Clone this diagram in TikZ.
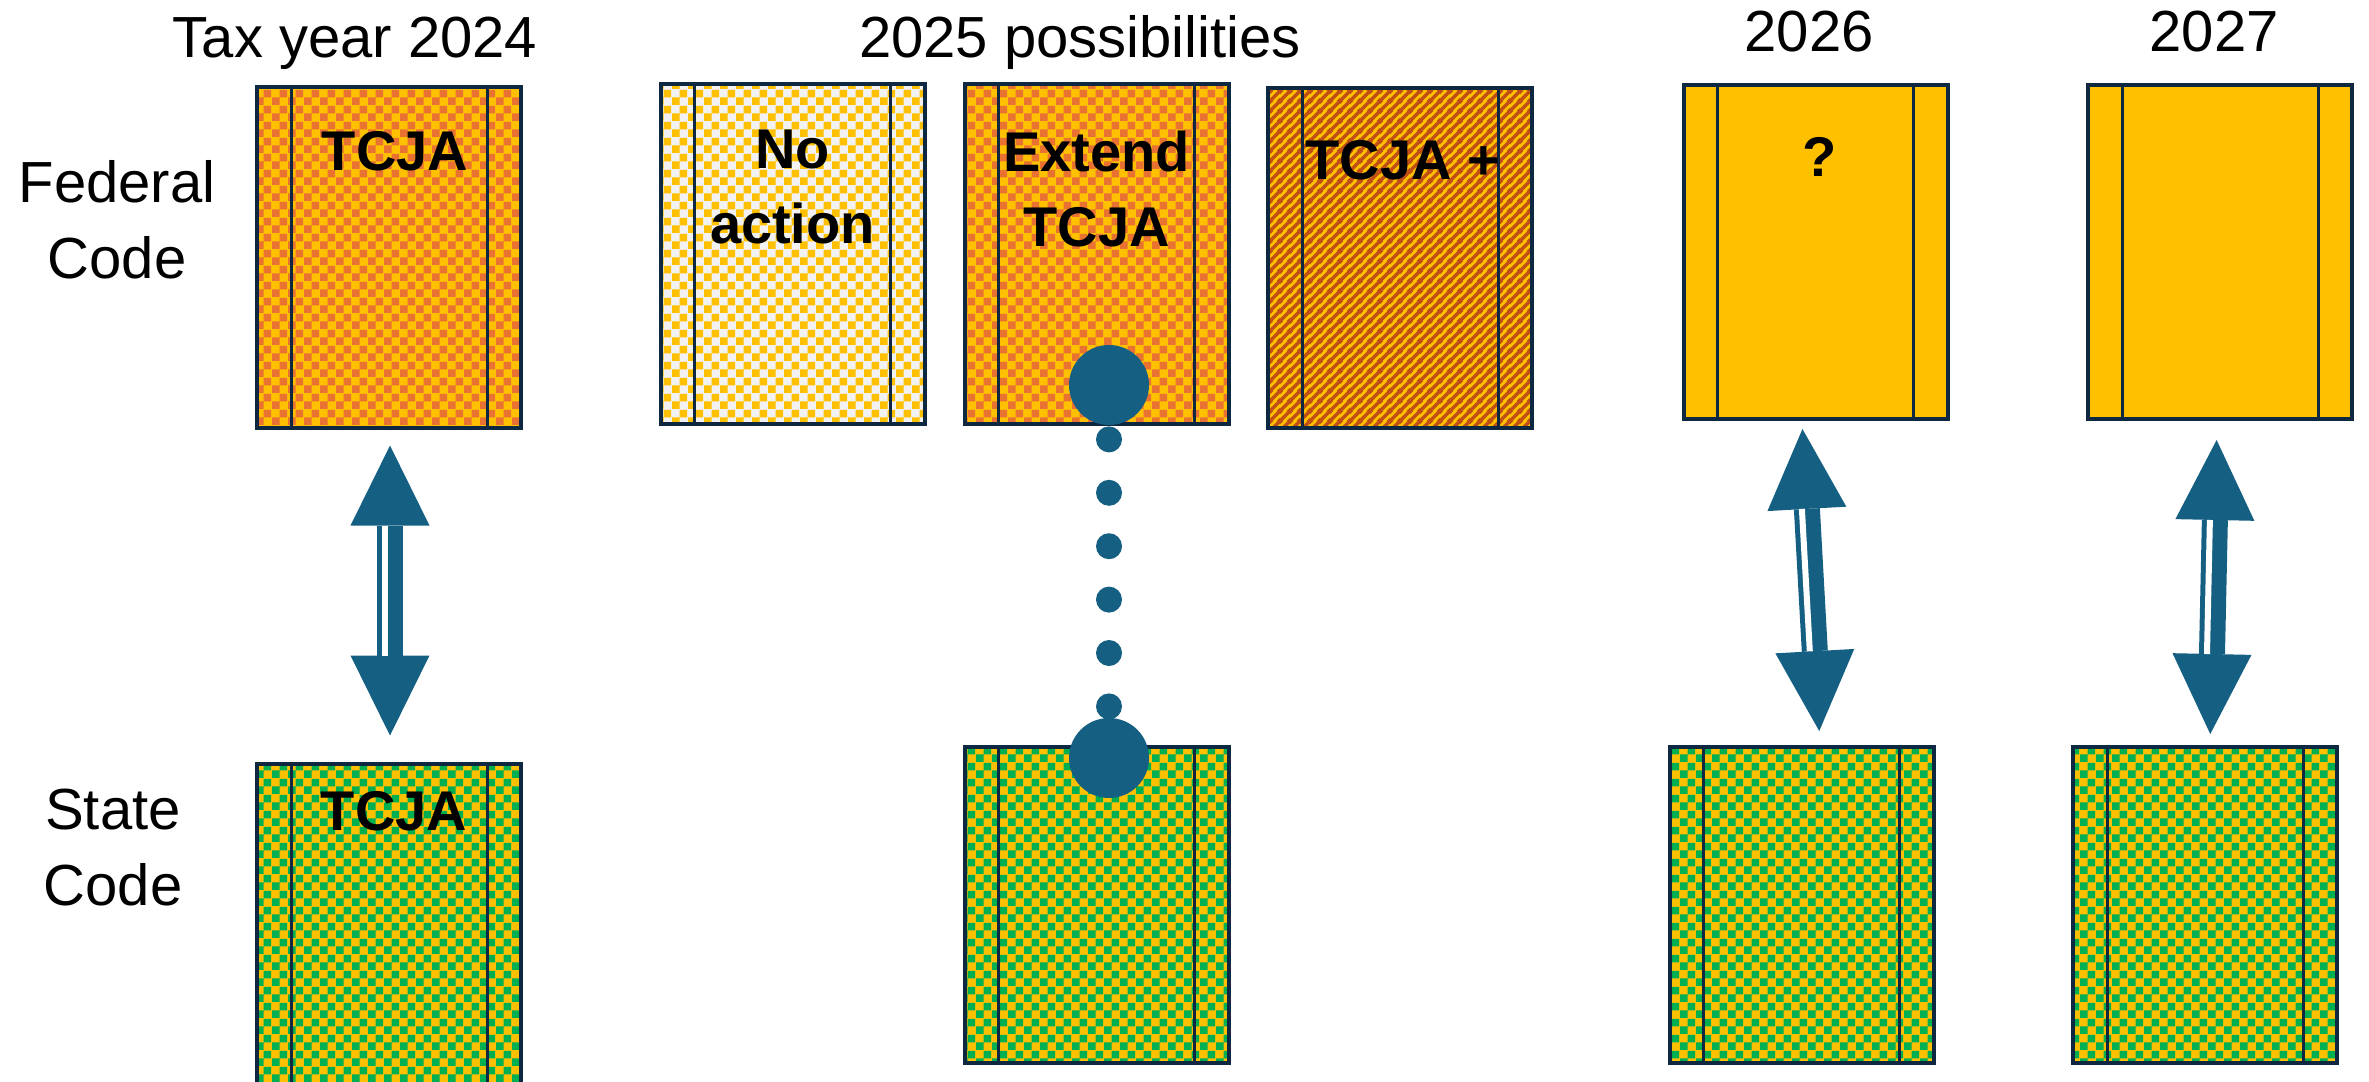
\documentclass[tikz,border=0pt]{standalone}
\usepackage{fontspec}
\setmainfont{Liberation Sans}
\usepackage{tikz}
\usepackage{xcolor}
\usetikzlibrary{positioning,calc,arrows.meta,patterns.meta}
\definecolor{taxOrange}{RGB}{233, 113, 50}
\definecolor{taxGold}{RGB}{255, 192, 0}
\definecolor{taxGreen}{RGB}{0, 176, 80}
\definecolor{taxPaper}{RGB}{242, 242, 242}
\definecolor{taxBrown}{RGB}{192, 79, 21}
\definecolor{taxNavy}{RGB}{14, 40, 65}
\definecolor{taxBlue}{RGB}{21, 96, 130}

% fill patterns
\pgfdeclarepattern{
  name=taxChecks, type=uncolored,
  bottom left={\pgfpointorigin}, top right={\pgfpoint{8pt}{8pt}},
  tile size={\pgfpoint{8pt}{8pt}},
  code={
    \pgfpathrectangle{\pgfpointorigin}{\pgfpoint{4pt}{4pt}}
    \pgfpathrectangle{\pgfpoint{4pt}{4pt}}{\pgfpoint{4pt}{4pt}}
    \pgfusepath{fill}
  }
}
\pgfdeclarepattern{
  name=taxStripes, type=uncolored,
  bottom left={\pgfpointorigin}, top right={\pgfpoint{5pt}{5pt}},
  tile size={\pgfpoint{5pt}{5pt}},
  code={
    \pgfsetlinewidth{1.9pt}
    \pgfpathmoveto{\pgfpoint{-1pt}{-1pt}}\pgfpathlineto{\pgfpoint{6pt}{6pt}}
    \pgfpathmoveto{\pgfpoint{-2pt}{3pt}}\pgfpathlineto{\pgfpoint{2pt}{7pt}}
    \pgfpathmoveto{\pgfpoint{3pt}{-2pt}}\pgfpathlineto{\pgfpoint{7pt}{2pt}}
    \pgfusepath{stroke}
  }
}

\begin{document}
\begin{tikzpicture}[x=0.5pt, y=-0.5pt,
    codeBox/.style={draw=taxNavy, line width=2pt, inner sep=0pt,
      minimum width=132pt, minimum height=170pt,
      path picture={
        \draw[taxNavy, line width=1.5pt] ([xshift=17pt]path picture bounding box.north west) -- ([xshift=17pt]path picture bounding box.south west);
        \draw[taxNavy, line width=1.5pt] ([xshift=-17pt]path picture bounding box.north east) -- ([xshift=-17pt]path picture bounding box.south east);
      }},
    tcjaBox/.style={codeBox, preaction={fill=taxGold}, pattern=taxChecks, pattern color=taxOrange},
    noneBox/.style={codeBox, preaction={fill=taxPaper}, pattern=taxChecks, pattern color=taxGold},
    plusBox/.style={codeBox, preaction={fill=taxGold}, pattern=taxStripes, pattern color=taxBrown},
    openBox/.style={codeBox, fill=taxGold, minimum height=167pt},
    stateBox/.style={codeBox, preaction={fill=taxGold}, pattern=taxChecks, pattern color=taxGreen},
    boxText/.style={inner sep=0pt, align=center, font=\fontsize{28pt}{37.5pt}\selectfont\bfseries},
    rowText/.style={inner sep=0pt, align=center, font=\fontsize{29pt}{38pt}\selectfont},
    yearText/.style={inner sep=0pt, anchor=base, font=\fontsize{29pt}{38pt}\selectfont},
    bigArrow/.style={draw=taxBlue, line width=13pt,
      {Triangle[width=39.5pt, length=40pt, line width=0pt]}-{Triangle[width=39.5pt, length=40pt, line width=0pt]}},
    arrowSlit/.style={draw=white, line width=3pt},
    bigDot/.style={circle, fill=taxBlue, minimum size=40pt, inner sep=0pt},
    dotLink/.style={draw=taxBlue, line width=13pt, line cap=round, dash pattern=on 0pt off 26.7pt, dash phase=19.7pt}]
    \useasboundingbox (0,0) rectangle (2369,1081);
    \clip (0,0) rectangle (2369,1081);

    % Year headings
    \node[yearText] (yr24) at (355,58) {Tax year 2024};
    \node[yearText] (yr25) at (1080,58) {2025 possibilities};
    \node[yearText] (yr26) at (1809,52) {2026};
    \node[yearText] (yr27) at (2214,52) {2027};

    % Row labels
    \node[rowText, anchor=north] (fedLbl) at (117,160) {Federal\\Code};
    \node[rowText, anchor=north] (stLbl) at (113,789) {State\\Code};

    % Federal code
    \node[tcjaBox] (fed24) at (389,257.5) {};
    \node[noneBox] (fedNone) at (792.5,254) {};
    \node[tcjaBox] (fedExt) at (1096.5,254) {};
    \node[plusBox] (fedMore) at (1400,258) {};
    \node[openBox] (fed26) at (1815.5,252) {};
    \node[openBox] (fed27) at (2220,252) {};

    % State code
    \node[stateBox] (st24) at (389,933.5) {};
    \node[stateBox, minimum height=158pt] (st25) at (1096.5,905) {};
    \node[stateBox, minimum height=158pt] (st26) at (1801.5,905) {};
    \node[stateBox, minimum height=158pt] (st27) at (2205,905) {};

    % Box texts
    \node[boxText, below=22.5pt of fed24.north, xshift=3pt] (fed24Txt) {TCJA};
    \node[boxText, below=24pt of fedNone.north] (noneTxt) {No\\action};
    \node[boxText, below=24.5pt of fedExt.north] (extTxt) {Extend\\TCJA};
    \node[boxText, below=27pt of fedMore.north, xshift=1.5pt] (moreTxt) {TCJA +};
    \node[boxText, below=27pt of fed26.north, xshift=2pt] (fed26Txt) {?};
    \node[boxText, below=14.75pt of st24.north, xshift=2.5pt] (st24Txt) {TCJA};

    % Connections
    \draw[bigArrow, shorten <=8pt, shorten >=13pt] ([xshift=0.5pt]fed24.south) -- ([xshift=0.5pt]st24.north);
    \draw[arrowSlit, shorten <=48pt, shorten >=53pt] ([xshift=-2pt]fed24.south) -- ([xshift=-2pt]st24.north);
    \draw[bigArrow, shorten <=4pt, shorten >=7pt] ([xshift=-6.75pt]fed26.south) -- ([xshift=9.25pt]st26.north);
    \draw[arrowSlit, shorten <=44pt, shorten >=47pt] ([xshift=-9.25pt]fed26.south) -- ([xshift=6.75pt]st26.north);
    \draw[bigArrow, shorten <=9.5pt, shorten >=5.5pt] ([xshift=-1.5pt]fed27.south) -- ([xshift=2.5pt]st27.north);
    \draw[arrowSlit, shorten <=49.5pt, shorten >=45.5pt] ([xshift=-4pt]fed27.south) -- ([xshift=0pt]st27.north);

    % Extend link
    \node[bigDot] (dotTop) at ($(fedExt.south)+(12.5,-41)$) {};
    \node[bigDot] (dotBot) at ($(st25.north)+(12.5,13)$) {};
    \draw[dotLink] (dotTop) -- (dotBot);
\end{tikzpicture}
\end{document}
